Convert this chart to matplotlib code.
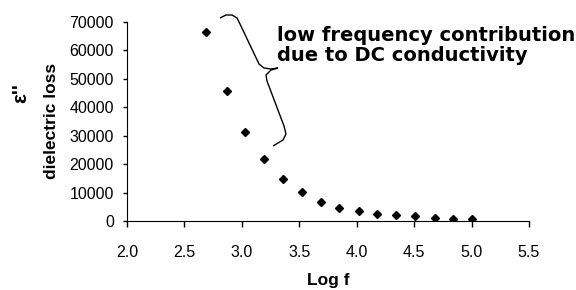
import matplotlib
matplotlib.use("Agg")
import matplotlib.pyplot as plt
from matplotlib.path import Path
from matplotlib.patches import PathPatch
from matplotlib.transforms import Affine2D

log_f = [2.69, 2.87, 3.03, 3.19, 3.36, 3.52, 3.69, 3.85, 4.02, 4.18, 4.34, 4.51, 4.68, 4.84, 5.00]
loss = [66500, 45700, 31400, 21700, 14700, 10200, 6800, 4700, 3600, 2400, 2100, 1760, 1160, 700, 600]

plt.rcParams["font.family"] = ["Liberation Sans", "DejaVu Sans"]

fig = plt.figure(figsize=(5.76, 2.9), dpi=100)
ax = fig.add_axes([0.2205, 0.2379, 0.6979, 0.6862])

ax.plot(log_f, loss, linestyle="none", marker="D", markersize=4, color="black")

ax.set_xlim(2.0, 5.5)
ax.set_ylim(0, 70000)
ax.set_xticks([2.0, 2.5, 3.0, 3.5, 4.0, 4.5, 5.0, 5.5])
ax.set_xticklabels(["2.0", "2.5", "3.0", "3.5", "4.0", "4.5", "5.0", "5.5"])
ax.set_yticks(range(0, 70001, 10000))
ax.spines["top"].set_visible(False)
ax.spines["right"].set_visible(False)
ax.tick_params(axis="x", direction="out", length=4, width=1, labelsize=11.5, pad=13)
ax.tick_params(axis="y", direction="out", length=3, width=1, labelsize=11.5, pad=6.5)

fig.text(328 / 576, 1 - 280 / 290, "Log f", ha="center", va="center",
         fontsize=12.5, fontweight="bold")
fig.text(52 / 576, 1 - 121 / 290, "dielectric loss", rotation=90, ha="center", va="center",
         fontsize=12.5, fontweight="bold")
fig.text(21 / 576, 1 - 93 / 290, "ε''", rotation=90, ha="center", va="center",
         fontsize=15, fontweight="bold")

fig.text(277 / 576, 1 - 26 / 290, "low frequency contribution\ndue to DC conductivity",
         ha="left", va="top", fontsize=14, fontweight="bold", linespacing=1.05,
         family="DejaVu Sans")

# curly brace, drawn in pixel coordinates of the figure
px = Affine2D().scale(1 / 576, -1 / 290).translate(0, 1) + fig.transFigure
pts = [(220, 18), (226, 15), (232, 15), (237, 18), (240, 24), (259, 64), (264, 68),
       (271, 69), (278, 68), (271, 70), (266, 75), (267, 81), (284, 126), (286, 134),
       (283, 140), (273, 146)]
codes = [Path.MOVETO] + [Path.LINETO] * (len(pts) - 1)
fig.patches.append(PathPatch(Path(pts, codes), transform=px, fill=False, lw=1, color="black"))

fig.savefig("out.png", dpi=100)
